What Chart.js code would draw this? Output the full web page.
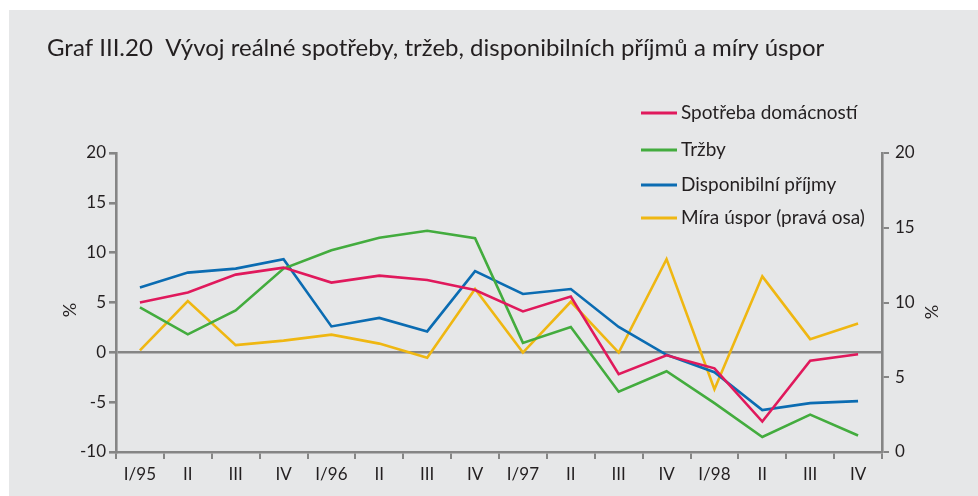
<!DOCTYPE html>
<html>
<head>
<meta charset="utf-8">
<script src="https://cdn.jsdelivr.net/npm/chart.js@4"></script>
<style>
  html, body { margin: 0; padding: 0; background: #ffffff; }
  #wrap { width: 978px; height: 496px; position: relative; }
</style>
</head>
<body>
<div id="wrap"><canvas id="graf" width="978" height="496"></canvas></div>
<script>
// data (čtvrtletí 1995-1998)
const kvartaly = ['I/95', 'II', 'III', 'IV', 'I/96', 'II', 'III', 'IV',
                  'I/97', 'II', 'III', 'IV', 'I/98', 'II', 'III', 'IV'];
const spotreba = [5.0, 6.0, 7.8, 8.5, 7.0, 7.7, 7.25, 6.25, 4.1, 5.6, -2.2, -0.3, -1.6, -6.95, -0.85, -0.2];
const trzby = [4.5, 1.8, 4.2, 8.4, 10.25, 11.5, 12.2, 11.45, 0.95, 2.55, -3.95, -1.9, -5.1, -8.5, -6.25, -8.35];
const prijmy = [6.5, 8.0, 8.4, 9.35, 2.6, 3.45, 2.1, 8.15, 5.85, 6.35, 2.55, -0.25, -2.0, -5.8, -5.1, -4.9];
const miraUspor = [6.8, 10.1, 7.15, 7.45, 7.85, 7.25, 6.3, 10.9, 6.65, 10.05, 6.65, 12.9, 4.2, 11.75, 7.55, 8.6];
const levaOsa = [-10, 20];
const pravaOsa = [0, 20];

const sedaOsa = '#858585';
const pismo = 'Lato';

// pozadí, nadpis, legenda, popisky os
const kresba = {
    id: 'kresba',
    beforeDraw(chart) {
        const ctx = chart.ctx;
        ctx.save();
        ctx.fillStyle = '#e6e7e8';
        ctx.fillRect(9, 10, chart.width - 9, chart.height - 10);
        ctx.restore();
    },
    afterDraw(chart) {
        const ctx = chart.ctx;
        ctx.save();
        ctx.fillStyle = '#231f20';
        ctx.font = '24px ' + pismo;
        ctx.textBaseline = 'alphabetic';
        ctx.fillText('Graf III.20  Vývoj reálné spotřeby, tržeb, disponibilních příjmů a míry úspor', 47, 56);

        // legenda
        const radky = [113, 150, 185, 218];
        ctx.font = '19px ' + pismo;
        ctx.textBaseline = 'middle';
        chart.data.datasets.forEach((ds, i) => {
            ctx.strokeStyle = ds.borderColor;
            ctx.lineWidth = 3;
            ctx.beginPath();
            ctx.moveTo(641, radky[i]);
            ctx.lineTo(677, radky[i]);
            ctx.stroke();
            ctx.fillStyle = '#231f20';
            ctx.fillText(ds.label, 681, radky[i]);
        });

        // %
        ctx.font = '18px ' + pismo;
        ctx.textAlign = 'center';
        [[70, 310], [932, 312]].forEach(p => {
            ctx.save();
            ctx.translate(p[0], p[1]);
            ctx.rotate(-Math.PI / 2);
            ctx.fillText('%', 0, 0);
            ctx.restore();
        });
        ctx.restore();
    }
};

const tickFont = { family: pismo, size: 17 };

new Chart(document.getElementById('graf'), {
    type: 'line',
    data: {
        labels: kvartaly,
        datasets: [
            { label: 'Spotřeba domácností', data: spotreba, borderColor: '#e0195c', yAxisID: 'y' },
            { label: 'Tržby', data: trzby, borderColor: '#43ac3e', yAxisID: 'y' },
            { label: 'Disponibilní příjmy', data: prijmy, borderColor: '#0b6cb2', yAxisID: 'y' },
            { label: 'Míra úspor (pravá osa)', data: miraUspor, borderColor: '#efb712', yAxisID: 'y1' }
        ]
    },
    options: {
        responsive: false,
        animation: false,
        devicePixelRatio: 1,
        layout: { padding: { top: 153, left: 0, right: 0, bottom: 0 } },
        elements: {
            line: { borderWidth: 2.6, tension: 0, fill: false },
            point: { radius: 0 }
        },
        plugins: {
            legend: { display: false },
            title: { display: false },
            tooltip: { enabled: false }
        },
        scales: {
            x: {
                offset: true,
                afterFit: s => { s.height = 44; },
                grid: { offset: true, drawOnChartArea: false, color: sedaOsa, tickLength: 7, lineWidth: 2 },
                border: { display: true, color: sedaOsa, width: 2.6 },
                ticks: { font: tickFont, color: '#231f20', padding: 5, maxRotation: 0, autoSkip: false }
            },
            y: {
                position: 'left',
                min: levaOsa[0],
                max: levaOsa[1],
                afterFit: s => { s.width = 116; },
                grid: {
                    color: c => (c.tick && c.tick.value === 0) ? sedaOsa : 'rgba(0,0,0,0)',
                    tickColor: sedaOsa,
                    lineWidth: 2.6,
                    tickLength: 7
                },
                border: { display: true, color: sedaOsa, width: 2.6 },
                ticks: { stepSize: 5, font: tickFont, color: '#231f20', padding: 3 }
            },
            y1: {
                position: 'right',
                min: pravaOsa[0],
                max: pravaOsa[1],
                afterFit: s => { s.width = 96; },
                grid: { drawOnChartArea: false, color: sedaOsa, lineWidth: 2, tickLength: 7 },
                border: { display: true, color: sedaOsa, width: 2.6 },
                ticks: { stepSize: 5, font: tickFont, color: '#231f20', padding: 6 }
            }
        }
    },
    plugins: [kresba]
});
</script>
</body>
</html>
